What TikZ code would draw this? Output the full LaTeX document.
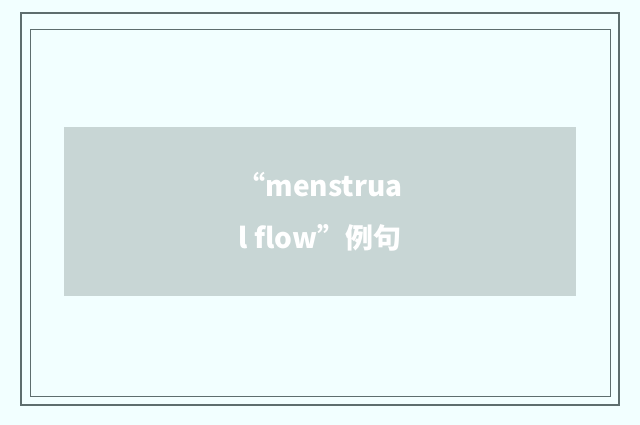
\documentclass[tikz,border=0pt]{standalone}
\usepackage{fontspec}
\newfontfamily\cjk{Noto Sans CJK SC}
\definecolor{pagebg}{HTML}{F2FFFF}
\definecolor{framecol}{HTML}{5E6E6E}
\definecolor{boxcol}{HTML}{C8D6D5}
\tikzset{frame/.style={draw=framecol,line width=1.2pt},
         titlebox/.style={fill=boxcol,draw=none}}
\begin{document}
\begin{tikzpicture}[x=1pt,y=-1pt]
\useasboundingbox[fill=pagebg] (0,0) rectangle (640,425);
\draw[frame] (21,13) rectangle (619,405);
\draw[frame,line width=0.8pt] (30,29) rectangle (610,396);
\fill[titlebox] (64,127) rectangle (576,296);
\node[text=white,font=\cjk\bfseries\fontsize{28}{52}\selectfont,align=center] (title)
  at (320,212) {“menstrua\\l flow”例句};
\end{tikzpicture}
\end{document}
